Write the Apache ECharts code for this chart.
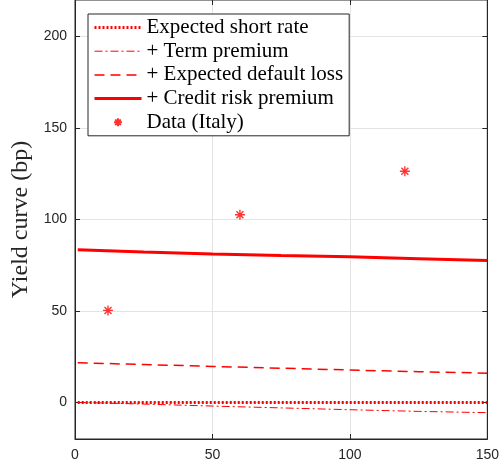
<!DOCTYPE html>
<html>
<head>
<meta charset="utf-8">
<script src="https://cdn.jsdelivr.net/npm/echarts@6/dist/echarts.min.js"></script>
<style>
  html, body { margin: 0; padding: 0; background: #fff; }
  #chart { width: 502px; height: 472px; }
</style>
</head>
<body>
<div id="chart"></div>
<script>
// Maturity grid (months) for the model-implied curves
const maturities = [1, 25, 50, 75, 100, 125, 150];

// Cumulative yield decomposition (bp)
const expectedShortRate = [0, 0, 0, 0, 0, 0, 0];
const plusTermPremium = [0, -0.9, -2.0, -3.0, -4.0, -4.9, -5.6];
const plusDefaultLoss = [21.7, 20.7, 19.7, 18.7, 17.7, 16.8, 16.0];
const plusCreditRiskPremium = [83.4, 82.2, 81.2, 80.3, 79.6, 78.6, 77.6];

// Observed Italian yields (maturity, bp)
const dataMaturities = [12, 60, 120];
const dataYields = [50.3, 102.6, 126.4];

// Axis ticks
const xTicks = [0, 50, 100, 150];
const yTicks = [0, 50, 100, 150, 200];

const seriesNames = [
  'Expected short rate',
  '+ Term premium',
  '+ Expected default loss',
  '+ Credit risk premium',
  'Data (Italy)'
];

const pair = (xs, ys) => xs.map((x, i) => [x, ys[i]]);
const red = '#ff0000';
// eight-spoke asterisk; the zero-length corner segments pad its box so the
// visible star fills ~57% of the symbol size
const asterisk = 'path://M-1.75,-1.75L-1.75,-1.75M1.75,1.75L1.75,1.75' +
  'M0,-1L0,1M-1,0L1,0M-0.7,-0.7L0.7,0.7M-0.7,0.7L0.7,-0.7';

// line styles shared by the curves and their legend samples
const curveStyles = [
  { color: red, width: 3, type: [2, 2] },
  { color: red, width: 1, type: [8, 3, 2, 3] },
  { color: red, width: 1.5, type: [10, 6] },
  { color: red, width: 3, type: 'solid' }
];

const chart = echarts.init(document.getElementById('chart'), null, { renderer: 'canvas' });

const axisFont = { fontFamily: 'Liberation Sans', fontSize: 14, color: '#262626' };
const gridGray = '#e3e3e3';

chart.setOption({
  animation: false,
  backgroundColor: '#ffffff',
  grid: {
    left: 75, right: 10, top: 0, bottom: 33,
    show: true, borderColor: '#262626', borderWidth: 1
  },
  legend: {
    orient: 'vertical',
    left: 88, top: 14,
    backgroundColor: '#ffffff',
    borderColor: '#262626',
    borderWidth: 1,
    padding: [3, 6, 3, 5],
    itemGap: 2.7,
    itemWidth: 47,
    itemHeight: 14,
    textStyle: { fontFamily: 'Liberation Serif', fontSize: 21, lineHeight: 21, color: '#000' },
    data: seriesNames.map((n, i) => (i < 4
      ? { name: n, itemStyle: { opacity: 0 }, lineStyle: { width: curveStyles[i].width } }
      : { name: n, icon: asterisk }))
  },
  xAxis: [{
    type: 'value', min: 0, max: 150, interval: 50,
    axisLine: { onZero: false, lineStyle: { color: '#262626' } },
    axisTick: { inside: true, length: 5, lineStyle: { color: '#262626' } },
    axisLabel: Object.assign({ margin: 9, customValues: xTicks }, axisFont),
    splitLine: { show: true, lineStyle: { color: gridGray } }
  }, {
    type: 'value', min: 0, max: 150, interval: 50, position: 'top',
    axisLine: { show: false, onZero: false },
    axisTick: { inside: true, length: 5, lineStyle: { color: '#262626' } },
    axisLabel: { show: false },
    splitLine: { show: false }
  }],
  yAxis: [{
    type: 'value', min: -20, max: 220, interval: 10,
    name: 'Yield curve (bp)',
    nameLocation: 'middle',
    nameGap: 41,
    nameTextStyle: { fontFamily: 'Liberation Serif', fontSize: 24, color: '#262626' },
    axisLine: { show: true, onZero: false, lineStyle: { color: '#262626' } },
    axisTick: { inside: true, length: 5, customValues: yTicks, lineStyle: { color: '#262626' } },
    axisLabel: Object.assign({ margin: 8, customValues: yTicks }, axisFont),
    splitLine: { show: false }
  }, {
    type: 'value', min: -20, max: 220, interval: 10, position: 'right',
    axisLine: { show: true, onZero: false, lineStyle: { color: '#262626' } },
    axisTick: { inside: true, length: 5, customValues: yTicks, lineStyle: { color: '#262626' } },
    axisLabel: { show: false },
    splitLine: { show: false }
  }],
  series: [
    {
      name: seriesNames[0], type: 'line', symbol: 'none',
      data: pair(maturities, expectedShortRate),
      lineStyle: curveStyles[0],
      itemStyle: { color: red },
      z: 4,
      // horizontal reference grid drawn at the labelled y values
      markLine: {
        silent: true, symbol: 'none', label: { show: false },
        lineStyle: { color: gridGray, width: 1, type: 'solid' },
        data: yTicks.map(v => ({ yAxis: v })),
        z: 0
      }
    },
    {
      name: seriesNames[1], type: 'line', symbol: 'none',
      data: pair(maturities, plusTermPremium),
      lineStyle: curveStyles[1],
      itemStyle: { color: red },
      z: 3
    },
    {
      name: seriesNames[2], type: 'line', symbol: 'none',
      data: pair(maturities, plusDefaultLoss),
      lineStyle: curveStyles[2],
      itemStyle: { color: red }
    },
    {
      name: seriesNames[3], type: 'line', symbol: 'none',
      data: pair(maturities, plusCreditRiskPremium),
      lineStyle: curveStyles[3],
      itemStyle: { color: red }
    },
    {
      name: seriesNames[4], type: 'scatter',
      symbol: asterisk, symbolSize: 17.5,
      data: pair(dataMaturities, dataYields),
      itemStyle: { color: 'none', borderColor: red, borderWidth: 1.4 }
    }
  ]
});
</script>
</body>
</html>
